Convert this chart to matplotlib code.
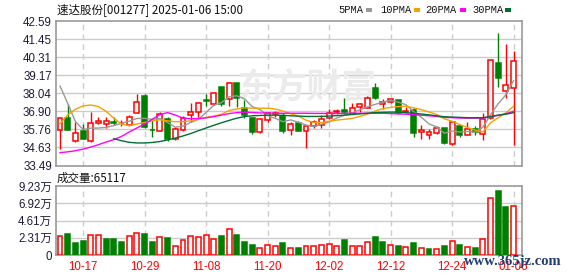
import matplotlib
matplotlib.use("Agg")
import matplotlib.pyplot as plt
from matplotlib.patches import Rectangle

plt.rcParams['font.family'] = ['Liberation Sans', 'Noto Sans CJK SC', 'DejaVu Sans']

# ---------------- data ----------------
dates = ["10-14", "10-15", "10-16", "10-17", "10-18", "10-21", "10-22", "10-23", "10-24", "10-25",
         "10-28", "10-29", "10-30", "10-31", "11-01", "11-04", "11-05", "11-06", "11-07", "11-08",
         "11-11", "11-12", "11-13", "11-14", "11-15", "11-18", "11-19", "11-20", "11-21", "11-22",
         "11-25", "11-26", "11-27", "11-28", "11-29", "12-02", "12-03", "12-04", "12-05", "12-06",
         "12-09", "12-10", "12-11", "12-12", "12-13", "12-16", "12-17", "12-18", "12-19", "12-20",
         "12-23", "12-24", "12-25", "12-26", "12-27", "12-30", "12-31", "01-02", "01-03", "01-06"]
tick_dates = ["10-17", "10-29", "11-08", "11-20", "12-02", "12-12", "12-24", "01-06"]

opens = [35.70, 36.47, 35.01, 35.64, 35.05, 36.16, 36.12, 36.26, 36.14, 36.06,
         36.78, 37.88, 35.74, 35.68, 36.41, 35.16, 35.74, 36.68, 36.84, 37.62,
         37.34, 38.41, 37.66, 38.70, 37.13, 36.47, 35.59, 36.37, 36.76, 36.62,
         35.74, 36.16, 35.64, 36.00, 36.06, 36.47, 36.86, 36.99, 36.82, 37.20,
         37.09, 38.34, 37.34, 37.49, 37.61, 36.86, 36.99, 35.61, 35.43, 35.51,
         35.84, 34.87, 35.95, 35.43, 35.78, 35.47, 36.47, 39.97, 38.18, 38.34]
highs = [36.50, 37.37, 36.24, 36.12, 36.84, 36.53, 36.53, 36.57, 36.35, 36.67,
         37.97, 38.01, 36.37, 36.84, 36.57, 35.89, 36.61, 37.41, 37.51, 37.97,
         38.13, 38.41, 38.76, 38.70, 37.60, 36.57, 36.47, 36.88, 36.95, 36.78,
         36.26, 36.30, 36.00, 36.37, 36.67, 37.03, 37.07, 37.72, 37.41, 37.45,
         37.87, 38.66, 37.66, 37.66, 37.61, 37.20, 37.09, 36.01, 35.82, 35.95,
         35.84, 36.26, 36.05, 36.22, 35.99, 36.78, 40.12, 41.84, 41.12, 40.68]
lows = [34.55, 35.70, 35.00, 35.18, 34.99, 36.12, 35.84, 36.06, 35.98, 35.98,
        36.78, 35.84, 35.27, 35.64, 35.03, 35.12, 35.68, 36.26, 36.57, 37.26,
        37.32, 37.26, 37.26, 37.20, 36.47, 35.49, 35.53, 36.26, 36.55, 35.53,
        35.43, 35.64, 34.59, 35.84, 35.84, 36.41, 36.76, 36.72, 36.78, 36.88,
        37.09, 37.66, 37.03, 37.41, 36.72, 36.78, 35.26, 35.18, 35.16, 35.48,
        34.87, 34.81, 35.28, 35.39, 35.43, 35.12, 36.43, 38.45, 37.76, 34.76]
closes = [36.47, 35.74, 35.53, 35.18, 36.16, 36.30, 36.28, 36.16, 36.18, 36.57,
          37.47, 35.89, 35.70, 36.72, 35.18, 35.80, 36.47, 36.89, 37.41, 37.58,
          38.03, 37.34, 38.70, 37.72, 36.67, 35.57, 36.43, 36.82, 36.80, 35.64,
          36.10, 35.68, 36.00, 36.26, 36.41, 36.82, 36.90, 36.84, 37.09, 37.34,
          37.72, 37.72, 37.51, 37.66, 36.78, 36.92, 35.53, 35.74, 35.57, 35.84,
          34.91, 36.26, 35.43, 35.78, 35.59, 36.41, 40.12, 39.01, 38.55, 40.05]

ma5 = [38.49, 37.41, 36.26, 35.76, 35.84, 35.85, 35.89, 36.00, 36.15, 36.28,
       36.45, 36.46, 36.40, 36.45, 36.20, 35.90, 35.97, 36.20, 36.40, 36.83,
       37.28, 37.45, 37.82, 37.88, 37.69, 37.20, 37.02, 36.64, 36.46, 36.25,
       36.36, 36.21, 36.04, 35.94, 36.09, 36.23, 36.48, 36.65, 36.81, 37.00,
       37.18, 37.34, 37.48, 37.59, 37.48, 37.32, 36.88, 36.53, 36.11, 35.92,
       35.52, 35.66, 35.60, 35.64, 35.59, 35.89, 36.67, 37.38, 37.94, 38.83]
ma10 = [36.12, 36.67, 37.03, 37.24, 37.30, 37.20, 36.90, 36.47, 36.10, 36.00,
        36.10, 36.20, 36.30, 36.37, 36.30, 36.25, 36.25, 36.30, 36.40, 36.51,
        36.60, 36.72, 36.95, 37.05, 37.12, 37.10, 37.10, 37.10, 37.05, 36.92,
        36.75, 36.60, 36.35, 36.20, 36.18, 36.28, 36.35, 36.40, 36.45, 36.58,
        36.72, 36.92, 37.07, 37.15, 37.20, 37.22, 37.12, 37.01, 36.86, 36.71,
        36.43, 36.28, 36.07, 35.88, 35.72, 35.60, 36.17, 36.50, 36.80, 37.22]
ma20 = [34.30, 34.35, 34.42, 34.52, 34.65, 34.80, 34.97, 35.12, 35.32, 35.60,
        35.85, 36.10, 36.40, 36.70, 36.82, 36.67, 36.47, 36.43, 36.45, 36.49,
        36.57, 36.66, 36.76, 36.82, 36.85, 36.83, 36.80, 36.80, 36.78, 36.78,
        36.78, 36.78, 36.78, 36.77, 36.77, 36.77, 36.77, 36.77, 36.78, 36.78,
        36.78, 36.78, 36.78, 36.76, 36.74, 36.72, 36.70, 36.66, 36.62, 36.58,
        36.52, 36.50, 36.48, 36.47, 36.47, 36.48, 36.55, 36.65, 36.75, 36.90]
ma30 = [None, None, None, None, None, None, None, 35.18, 35.05, 34.95,
        34.91, 34.91, 34.94, 35.00, 35.10, 35.22, 35.35, 35.50, 35.68, 35.85,
        36.02, 36.18, 36.33, 36.47, 36.57, 36.62, 36.64, 36.66, 36.66, 36.65,
        36.62, 36.60, 36.58, 36.58, 36.58, 36.60, 36.63, 36.66, 36.70, 36.74,
        36.78, 36.82, 36.84, 36.85, 36.85, 36.82, 36.78, 36.73, 36.68, 36.62,
        36.56, 36.54, 36.52, 36.50, 36.50, 36.50, 36.58, 36.66, 36.72, 36.82]

volume = [2.53, 2.80, 1.60, 1.87, 2.62, 2.62, 2.13, 2.13, 1.73, 2.53,
          2.89, 2.80, 1.73, 2.36, 2.27, 1.16, 2.00, 2.49, 2.36, 2.62,
          2.09, 2.53, 3.42, 2.67, 1.78, 1.33, 0.93, 1.29, 1.16, 1.60,
          0.89, 0.93, 1.16, 1.16, 1.29, 1.42, 1.16, 2.00, 1.16, 1.16,
          1.73, 2.40, 1.78, 1.29, 1.20, 1.02, 1.60, 0.89, 0.80, 0.80,
          1.20, 1.87, 1.33, 1.02, 0.93, 2.09, 7.56, 8.53, 6.40, 6.5117]
volume_up = [1, 0, 0, 0, 1, 1, 0, 0, 0, 1,
             1, 0, 0, 1, 0, 1, 1, 1, 1, 1,
             1, 0, 1, 0, 0, 0, 1, 1, 1, 0,
             1, 0, 1, 1, 1, 1, 1, 0, 1, 1,
             1, 0, 0, 1, 0, 1, 0, 1, 0, 1,
             0, 1, 0, 1, 0, 1, 1, 0, 0, 1]

price_ticks = [33.49, 34.63, 35.76, 36.90, 38.04, 39.17, 40.31, 41.45, 42.59]
vol_ticks = [0, 2.31, 4.61, 6.92, 9.23]
vol_tick_labels = ["0", "2.31万", "4.61万", "6.92万", "9.23万"]

title = "速达股份[001277] 2025-01-06 15:00"
vol_title = "成交量:65117"
ma_names = ["5PMA", "10PMA", "20PMA", "30PMA"]

# ---------------- style ----------------
W, H = 578, 276
RED = "#ff0000"
GREEN = "#008000"
MA_COLORS = ["#999999", "#f5a200", "#ff00ff", "#006f35"]
GRID = "#cccccc"
FRAME = "#999999"
LABEL = "#1c1c3a"


def rect(x0, y0, x1, y1):
    return [x0 / W, 1 - y1 / H, (x1 - x0) / W, (y1 - y0) / H]


fig = plt.figure(figsize=(W / 100, H / 100), dpi=100)
axp = fig.add_axes(rect(56, 21, 522, 165.5))
axv = fig.add_axes(rect(56, 186, 522, 255))

n = len(dates)
xs = list(range(n))
XLIM = (-0.52, 60.1)
tick_idx = [dates.index(d) for d in tick_dates]

for ax in (axp, axv):
    ax.set_xlim(*XLIM)
    for s in ax.spines.values():
        s.set_color(FRAME)
        s.set_linewidth(1.2)
    ax.tick_params(length=0)
    for xi in tick_idx:
        ax.axvline(xi, color=GRID, lw=1, ls=(0, (4, 3)), zorder=0)

# ---- price panel ----
axp.set_ylim(price_ticks[0], price_ticks[-1])
for t in price_ticks[1:-1]:
    axp.axhline(t, color=GRID, lw=1, zorder=0)
axp.set_yticks(price_ticks)
axp.set_yticklabels([f"{t:.2f}" for t in price_ticks], fontsize=8.3, color=LABEL)
axp.tick_params(axis='y', pad=3)
axp.set_xticks([])

axp.text(0.54, 0.54, "东方财富", transform=axp.transAxes, fontsize=25,
         color="#ebebeb", ha="center", va="center", zorder=0.5,
         family=["Noto Sans CJK SC"], fontweight="bold")

bw = 0.64
for i in xs:
    o, h, l, c = opens[i], highs[i], lows[i], closes[i]
    up = c >= o
    col = RED if up else GREEN
    axp.vlines(i, l, h, color=col, lw=1, zorder=2)
    bot = min(o, c)
    ht = max(abs(c - o), 0.045)
    axp.add_patch(Rectangle((i - bw / 2, bot), bw, ht,
                            facecolor="white" if up else GREEN,
                            edgecolor=col, lw=1.1, zorder=3))

for vals, colr in zip([ma5, ma10, ma20, ma30], MA_COLORS):
    px = [x for x, v in zip(xs, vals) if v is not None]
    py = [v for v in vals if v is not None]
    axp.plot(px, py, color=colr, lw=1.0, zorder=4)

# ---- volume panel ----
axv.set_ylim(vol_ticks[0], vol_ticks[-1])
for t in vol_ticks[1:-1]:
    axv.axhline(t, color=GRID, lw=1, zorder=0)
axv.set_yticks(vol_ticks)
axv.set_yticklabels(vol_tick_labels, fontsize=8.3, color=LABEL)
axv.tick_params(axis='y', pad=3)
for i in xs:
    up = volume_up[i] == 1
    axv.add_patch(Rectangle((i - bw / 2, 0), bw, volume[i],
                            facecolor="white" if up else GREEN,
                            edgecolor=RED if up else GREEN, lw=1.1, zorder=3))
axv.set_xticks(tick_idx)
axv.set_xticklabels(tick_dates, fontsize=8.3, color=RED)
axv.tick_params(axis='x', pad=4)

# ---- texts ----
fig.text(57 / W, 1 - 10 / H, title, fontsize=8.3, color="#111111",
         ha="left", va="center", family=["Noto Sans CJK SC", "DejaVu Sans"])
fig.text(57 / W, 1 - 178 / H, vol_title, fontsize=8.3, color="#111111",
         ha="left", va="center", family=["Noto Sans CJK SC", "DejaVu Sans"])

leg_x = [338, 380, 425, 472]
sq_x = [366, 414, 460, 505]
for name, lx, sx, colr in zip(ma_names, leg_x, sq_x, MA_COLORS):
    fig.text(lx / W, 1 - 10 / H, name, fontsize=7.5, color="#111111",
             ha="left", va="center", family=["Liberation Mono"])
    fig.patches.append(Rectangle((sx / W, 1 - 12 / H), 6 / W, 4 / H,
                                 transform=fig.transFigure, facecolor=colr,
                                 edgecolor="none"))

fig.text(513 / W, 1 - 262 / H, "www.365jz.com", fontsize=10.5, color="#1f3d72",
         ha="center", va="center", family=["Liberation Serif"], fontweight="bold")

fig.savefig("out.png", dpi=100)
